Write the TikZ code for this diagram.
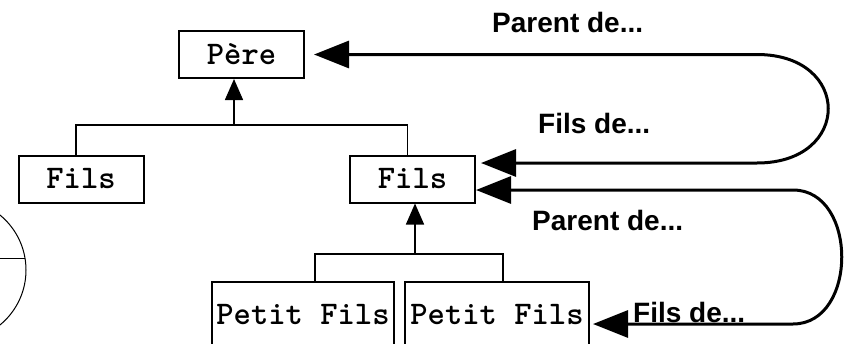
\documentclass[tikz,border=0pt]{standalone}
\usepackage{fontspec}
\newfontfamily\notefont{Liberation Sans}
\usetikzlibrary{positioning,arrows.meta,calc}

\begin{document}
\begin{tikzpicture}[
    x=1pt, y=-1pt,
    member/.style={rectangle, draw=black, line width=2pt, fill=white, align=center, minimum width=125pt, minimum height=47pt, inner xsep=2pt, font=\ttfamily\bfseries\fontsize{33}{36}\selectfont},
    small/.style={member, minimum height=66pt},
    tree/.style={line width=1.5pt},
    treearrow/.style={tree, -{Triangle[length=21pt, width=18pt]}},
    relation/.style={line width=3pt, {Triangle[length=35pt, width=27pt]}-{Triangle[length=35pt, width=27pt]}},
    note/.style={font=\notefont\bfseries\fontsize{28}{32}\selectfont, anchor=base west, inner sep=0pt}
  ]
    \clip (0,0) rectangle (846,343);

    \node[member] (pere) at (241.5,54.5) {Père};
    \node[member] (filsg) at (81,179) {Fils};
    \node[member] (filsd) at (412.5,179) {Fils};
    \node[small, minimum width=182pt] (petitg) at (303,315) {Petit Fils};
    \node[small, minimum width=184pt, right=9pt of petitg] (petitd) {Petit Fils};

    \coordinate (haut) at (234,125);
    \coordinate (bas) at (415,254);

    \draw[tree] ([xshift=-5pt]filsg.north) |- (haut) -| ([xshift=-5pt]filsd.north);
    \draw[treearrow] (haut) -- (haut |- pere.south);
    \draw[tree] ([xshift=12pt]petitg.north) |- (bas) -| ([xshift=6pt]petitd.north);
    \draw[treearrow] (bas) -- (bas |- filsd.south);

    \draw[relation, shorten <=9pt] (pere.east) -- (757,54.5) .. controls (852,54.5) and (852,163) .. (757,163) -- ([xshift=5pt, yshift=16pt]filsd.east);
    \draw[relation] ([yshift=-11pt]filsd.east) -- (793,190) .. controls (858,190) and (858,324) .. (793,324) -- ([xshift=3pt, yshift=-9pt]petitd.east);

    \node[note] (parent1) at (492,32) {Parent de...};
    \node[note] (fils1) at (538,133) {Fils de...};
    \node[note] (parent2) at (532,230) {Parent de...};
    \node[note] (fils2) at (633,322) {Fils de...};

    \draw[line width=1pt] (-45,270) circle[radius=71];
    \draw[line width=1pt] (0,258) -- (25,258);
\end{tikzpicture}
\end{document}
